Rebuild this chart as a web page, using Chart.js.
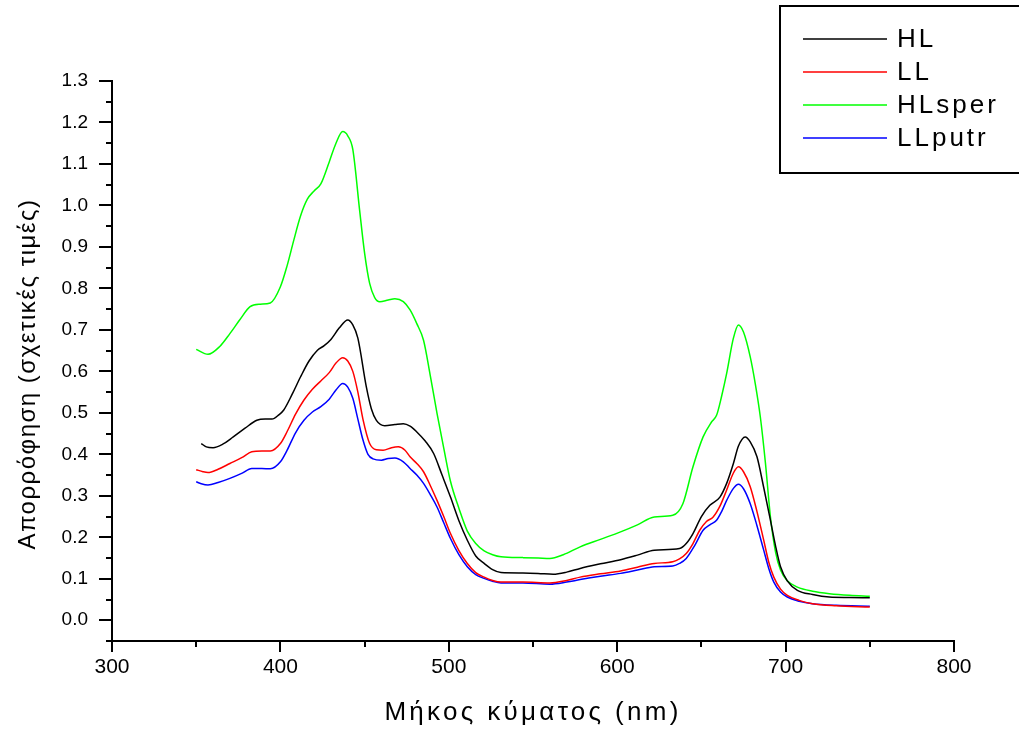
<!DOCTYPE html>
<html>
<head>
<meta charset="utf-8">
<title>Φάσματα απορρόφησης</title>
<script src="https://cdn.jsdelivr.net/npm/chart.js@4/dist/chart.umd.min.js"></script>
<style>
  html, body { margin: 0; padding: 0; background: #ffffff; }
</style>
</head>
<body>
<canvas id="spectra" width="1019" height="730"></canvas>
<script>
// absorption spectra, relative units, wavelength in nm
const hlNm = [353, 356, 360, 366, 372, 379, 386, 391, 395, 399, 402, 407, 412, 417, 422, 426, 430, 435, 440, 443, 446, 451, 454, 457, 462, 468, 473, 477, 481, 486, 491, 496, 501, 506, 511, 516, 521, 526, 531, 544, 553, 562, 570, 578, 590, 602, 612, 622, 637, 641, 645, 650, 655, 661, 665, 669, 672, 676, 679, 683, 687, 691, 694, 697, 701, 707, 716, 726, 738, 750];
const hlAbs = [0.426, 0.418, 0.416, 0.425, 0.442, 0.463, 0.482, 0.485, 0.485, 0.495, 0.507, 0.545, 0.587, 0.625, 0.651, 0.662, 0.677, 0.705, 0.724, 0.712, 0.680, 0.563, 0.510, 0.482, 0.469, 0.472, 0.474, 0.468, 0.454, 0.432, 0.402, 0.350, 0.297, 0.240, 0.193, 0.155, 0.137, 0.122, 0.115, 0.114, 0.113, 0.111, 0.116, 0.125, 0.136, 0.146, 0.157, 0.169, 0.173, 0.185, 0.209, 0.250, 0.277, 0.297, 0.330, 0.378, 0.420, 0.442, 0.430, 0.394, 0.320, 0.241, 0.180, 0.129, 0.095, 0.072, 0.062, 0.056, 0.055, 0.054];

const llNm = [350, 354, 357, 363, 370, 377, 383, 389, 394, 400, 404, 409, 414, 419, 424, 429, 433, 437, 440, 443, 446, 449, 453, 457, 461, 466, 470, 474, 477, 481, 485, 489, 493, 497, 501, 506, 511, 516, 521, 526, 531, 544, 560, 570, 578, 590, 602, 612, 622, 633, 637, 641, 645, 649, 653, 657, 661, 665, 669, 672, 675, 679, 683, 687, 690, 693, 697, 701, 708, 716, 730, 750];
const llAbs = [0.363, 0.358, 0.356, 0.364, 0.378, 0.392, 0.406, 0.408, 0.408, 0.426, 0.455, 0.497, 0.531, 0.557, 0.577, 0.597, 0.620, 0.633, 0.625, 0.600, 0.550, 0.485, 0.426, 0.411, 0.410, 0.416, 0.418, 0.410, 0.394, 0.378, 0.358, 0.325, 0.289, 0.250, 0.209, 0.168, 0.137, 0.115, 0.104, 0.096, 0.092, 0.092, 0.090, 0.096, 0.104, 0.112, 0.119, 0.128, 0.137, 0.141, 0.148, 0.161, 0.185, 0.217, 0.238, 0.249, 0.275, 0.314, 0.355, 0.370, 0.358, 0.322, 0.262, 0.193, 0.140, 0.104, 0.075, 0.060, 0.048, 0.040, 0.035, 0.032];

const hlsperNm = [350, 357, 364, 370, 376, 382, 388, 394, 400, 404, 408, 412, 416, 420, 424, 429, 433, 437, 440, 443, 447, 450, 453, 456, 459, 464, 468, 473, 477, 481, 485, 489, 493, 497, 501, 506, 511, 516, 521, 526, 531, 544, 553, 560, 568, 578, 590, 602, 612, 622, 633, 639, 645, 651, 656, 659, 662, 665, 669, 672, 675, 679, 682, 685, 688, 691, 694, 697, 701, 707, 716, 726, 738, 750];
const hlsperAbs = [0.653, 0.641, 0.660, 0.691, 0.725, 0.756, 0.762, 0.765, 0.804, 0.855, 0.917, 0.975, 1.015, 1.035, 1.052, 1.105, 1.150, 1.178, 1.168, 1.135, 0.990, 0.885, 0.812, 0.778, 0.768, 0.772, 0.775, 0.768, 0.748, 0.715, 0.675, 0.590, 0.499, 0.415, 0.335, 0.270, 0.215, 0.185, 0.167, 0.158, 0.153, 0.151, 0.150, 0.149, 0.158, 0.177, 0.195, 0.213, 0.230, 0.249, 0.253, 0.281, 0.370, 0.442, 0.478, 0.494, 0.540, 0.595, 0.680, 0.712, 0.695, 0.635, 0.570, 0.490, 0.380, 0.249, 0.165, 0.121, 0.095, 0.080, 0.070, 0.064, 0.060, 0.058];

const llputrNm = [350, 353, 357, 363, 370, 377, 383, 389, 394, 400, 404, 409, 414, 419, 424, 429, 433, 437, 440, 443, 446, 449, 452, 455, 460, 464, 468, 473, 477, 481, 485, 489, 493, 497, 501, 506, 511, 516, 521, 526, 531, 544, 560, 570, 578, 590, 602, 612, 622, 633, 637, 641, 646, 651, 655, 659, 662, 665, 669, 672, 675, 679, 683, 687, 690, 693, 697, 701, 708, 716, 730, 750];
const llputrAbs = [0.334, 0.329, 0.326, 0.332, 0.342, 0.354, 0.366, 0.366, 0.365, 0.382, 0.410, 0.452, 0.482, 0.502, 0.515, 0.533, 0.555, 0.571, 0.562, 0.535, 0.485, 0.435, 0.400, 0.389, 0.386, 0.390, 0.391, 0.382, 0.366, 0.350, 0.330, 0.303, 0.273, 0.235, 0.197, 0.158, 0.129, 0.110, 0.101, 0.094, 0.090, 0.090, 0.087, 0.092, 0.098, 0.106, 0.113, 0.121, 0.129, 0.131, 0.137, 0.149, 0.180, 0.217, 0.230, 0.241, 0.262, 0.289, 0.318, 0.328, 0.317, 0.281, 0.228, 0.169, 0.125, 0.092, 0.068, 0.056, 0.046, 0.040, 0.036, 0.034];

const seriesLabels = ["HL", "LL", "HLsper", "LLputr"];
const seriesColors = ["#000000", "#ff0000", "#00ff00", "#0000ff"];
const seriesNm = [hlNm, llNm, hlsperNm, llputrNm];
const seriesAbs = [hlAbs, llAbs, hlsperAbs, llputrAbs];

const xTitle = "Μήκος κύματος (nm)";
const yTitle = "Απορρόφηση (σχετικές τιμές)";

Chart.defaults.font.family = "'Liberation Sans', Arial, sans-serif";
Chart.defaults.color = "#000000";

function isMajor(value, step) {
  return Math.round(value / step) % 2 === 0;
}

// outward tick marks, long on labelled values, short in between
const tickMarks = {
  id: "tickMarks",
  afterDraw(chart) {
    const { ctx, scales: { x, y } } = chart;
    ctx.save();
    ctx.strokeStyle = "#000000";
    ctx.lineWidth = 2;
    y.ticks.forEach((t) => {
      const py = Math.round(y.getPixelForValue(t.value));
      const len = isMajor(t.value, 0.05) ? 13 : 6;
      ctx.beginPath();
      ctx.moveTo(y.right - len, py);
      ctx.lineTo(y.right, py);
      ctx.stroke();
    });
    x.ticks.forEach((t) => {
      const px = Math.round(x.getPixelForValue(t.value));
      const len = isMajor(t.value, 50) ? 11 : 6;
      ctx.beginPath();
      ctx.moveTo(px, x.top);
      ctx.lineTo(px, x.top + len);
      ctx.stroke();
    });
    ctx.restore();
  },
};

// axis titles and the boxed legend, drawn with spaced letters
const titlesAndLegend = {
  id: "titlesAndLegend",
  afterDraw(chart) {
    const { ctx, chartArea } = chart;
    ctx.save();
    ctx.fillStyle = "#000000";
    ctx.textBaseline = "middle";
    ctx.textAlign = "center";

    ctx.font = "26px 'Liberation Sans', Arial, sans-serif";
    ctx.letterSpacing = "3.3px";
    ctx.fillText(xTitle, (chartArea.left + chartArea.right) / 2, 713);

    ctx.font = "24px 'Liberation Sans', Arial, sans-serif";
    ctx.letterSpacing = "1.5px";
    ctx.translate(28, (chartArea.top + chartArea.bottom) / 2 + 13);
    ctx.rotate(-Math.PI / 2);
    ctx.fillText(yTitle, 0, 0);
    ctx.setTransform(1, 0, 0, 1, 0, 0);

    ctx.strokeStyle = "#000000";
    ctx.lineWidth = 2;
    ctx.strokeRect(780, 6, 300, 167);

    ctx.textAlign = "left";
    ctx.font = "26px 'Liberation Sans', Arial, sans-serif";
    ctx.letterSpacing = "3px";
    chart.data.datasets.forEach((ds, i) => {
      const rowY = 39 + i * 33;
      ctx.strokeStyle = ds.borderColor;
      ctx.lineWidth = 1.5;
      ctx.beginPath();
      ctx.moveTo(803, rowY);
      ctx.lineTo(887, rowY);
      ctx.stroke();
      ctx.fillText(ds.label, 897, rowY + 1);
    });
    ctx.restore();
  },
};

const ctx = document.getElementById("spectra").getContext("2d");

new Chart(ctx, {
  type: "line",
  data: {
    datasets: seriesLabels.map((label, i) => ({
      label: label,
      data: seriesNm[i].map((nm, j) => ({ x: nm, y: seriesAbs[i][j] })),
      borderColor: seriesColors[i],
      borderWidth: 1.5,
      pointRadius: 0,
      fill: false,
      cubicInterpolationMode: "monotone",
    })),
  },
  options: {
    responsive: false,
    animation: false,
    layout: { padding: { top: 81, right: 65, left: 0, bottom: 0 } },
    plugins: {
      legend: { display: false },
      tooltip: { enabled: false },
    },
    scales: {
      x: {
        type: "linear",
        min: 300,
        max: 800,
        grid: { display: false, drawTicks: false },
        border: { display: true, color: "#000000", width: 2 },
        ticks: {
          stepSize: 50,
          maxRotation: 0,
          autoSkip: false,
          padding: 14,
          font: { size: 21 },
          color: "#000000",
          callback: (value) => (isMajor(value, 50) ? String(value) : ""),
        },
        afterFit: (scale) => {
          scale.height = 89;
        },
      },
      y: {
        type: "linear",
        min: -0.05,
        max: 1.3,
        grid: { display: false, drawTicks: false },
        border: { display: true, color: "#000000", width: 2 },
        ticks: {
          stepSize: 0.05,
          maxTicksLimit: 100,
          autoSkip: false,
          padding: 24,
          font: { size: 19 },
          color: "#000000",
          callback: (value) =>
            value > -0.01 && isMajor(value, 0.05) ? value.toFixed(1) : "",
        },
        afterFit: (scale) => {
          scale.width = 112;
        },
      },
    },
  },
  plugins: [tickMarks, titlesAndLegend],
});
</script>
</body>
</html>
